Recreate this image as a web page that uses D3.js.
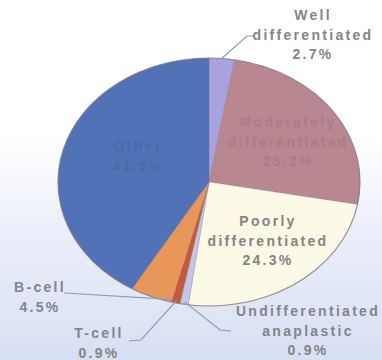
<!DOCTYPE html>
<html>
<head>
<meta charset="utf-8">
<script src="https://cdn.jsdelivr.net/npm/d3@7"></script>
<style>
  html, body { margin: 0; padding: 0; background: #fff; }
  svg { display: block; }
  text { font-family: "Liberation Sans", Arial, sans-serif; font-weight: bold; }
</style>
</head>
<body>
<svg id="chart" width="382" height="360"></svg>
<script>
// ---- data ----
const categories = ["Well differentiated", "Moderately differentiated", "Poorly differentiated",
                    "Undifferentiated anaplastic", "T-cell", "B-cell", "Other"];
const values = [2.7, 25.2, 24.3, 0.9, 0.9, 4.5, 41.5];
const labelLines = [
  ["Well", "differentiated", "2.7%"],
  ["Moderately", "differentiated", "25.2%"],
  ["Poorly", "differentiated", "24.3%"],
  ["Undifferentiated", "anaplastic", "0.9%"],
  ["T-cell", "0.9%"],
  ["B-cell", "4.5%"],
  ["Other", "41.5%"]
];
const colors = ["#a9a2df", "#b9878f", "#fcf9e6", "#c3c6e6", "#c65a36", "#e8965a", "#5272b8"];

// ---- layout ----
const W = 382, H = 360;
const cx = 209, cy = 182, rx = 151, ry = 124;
const labelPos = [[313, 20], [288, 127], [268, 226], [308, 316], [99, 338], [40, 292], [138, 151]];
const labelFill = ["#848489", "#aa7e87", "#838383", "#848489", "#848489", "#848489", "#4a69aa"];
// leader: angle (deg) on slice, radius fraction, then elbow/end points
const leaders = [
  {i: 0, ang: 4.8, rf: 1.0, pts: [[247, 36], [254, 36]]},
  {i: 5, ang: 195, rf: 0.98, pts: [[64, 293]]},
  {i: 4, ang: 192.7, rf: 0.98, pts: [[141, 340], [129, 341]]},
  {i: 3, ang: 189.5, rf: 0.98, pts: [[220, 330], [231, 331]]}
];

const svg = d3.select("#chart");
const defs = svg.append("defs");
const grad = defs.append("linearGradient").attr("id", "bg").attr("x1", 0).attr("y1", 0).attr("x2", 0).attr("y2", 1);
grad.append("stop").attr("offset", "0").attr("stop-color", "#ffffff");
grad.append("stop").attr("offset", "0.38").attr("stop-color", "#ffffff");
grad.append("stop").attr("offset", "0.6").attr("stop-color", "#eef1fa");
grad.append("stop").attr("offset", "1").attr("stop-color", "#d7dff3");
svg.append("rect").attr("width", W).attr("height", H).attr("fill", "url(#bg)");

const pie = d3.pie().sort(null).value(d => d)(values);
const arc = d3.arc().innerRadius(0).outerRadius(ry);

const g = svg.append("g").attr("transform", `translate(${cx},${cy}) scale(${rx / ry},1)`);
g.selectAll("path").data(pie).join("path")
  .attr("d", arc)
  .attr("fill", (d, i) => colors[i])
  .attr("stroke", "rgba(120,110,130,0.35)")
  .attr("stroke-width", 0.8)
  .attr("vector-effect", "non-scaling-stroke");
g.append("ellipse").attr("rx", ry).attr("ry", ry)
  .attr("fill", "none").attr("stroke", "rgba(125,120,135,0.7)").attr("stroke-width", 1.2)
  .attr("vector-effect", "non-scaling-stroke");

// leader lines
const pt = (angDeg, rf) => {
  const a = angDeg * Math.PI / 180;
  return [cx + rx * rf * Math.sin(a), cy - ry * rf * Math.cos(a)];
};
const line = d3.line();
leaders.forEach(L => {
  const s = pie[L.i];
  const a0 = s.startAngle * 180 / Math.PI, a1 = s.endAngle * 180 / Math.PI;
  const ang = Math.max(a0 - 3, Math.min(a1 + 3, L.ang));
  svg.append("path")
    .attr("d", line([pt(ang, L.rf), ...L.pts]))
    .attr("fill", "none").attr("stroke", "#8d9bb0").attr("stroke-width", 1.2);
});

// labels
categories.forEach((c, i) => {
  const [x, y] = labelPos[i];
  const t = svg.append("text")
    .attr("x", x).attr("y", y)
    .attr("text-anchor", "middle")
    .attr("font-size", 14)
    .attr("letter-spacing", 2.3)
    .attr("fill", labelFill[i]);
  labelLines[i].forEach((ln, k) => {
    t.append("tspan").attr("x", x).attr("dy", k === 0 ? 0 : 19.5).text(ln);
  });
});
</script>
</body>
</html>
